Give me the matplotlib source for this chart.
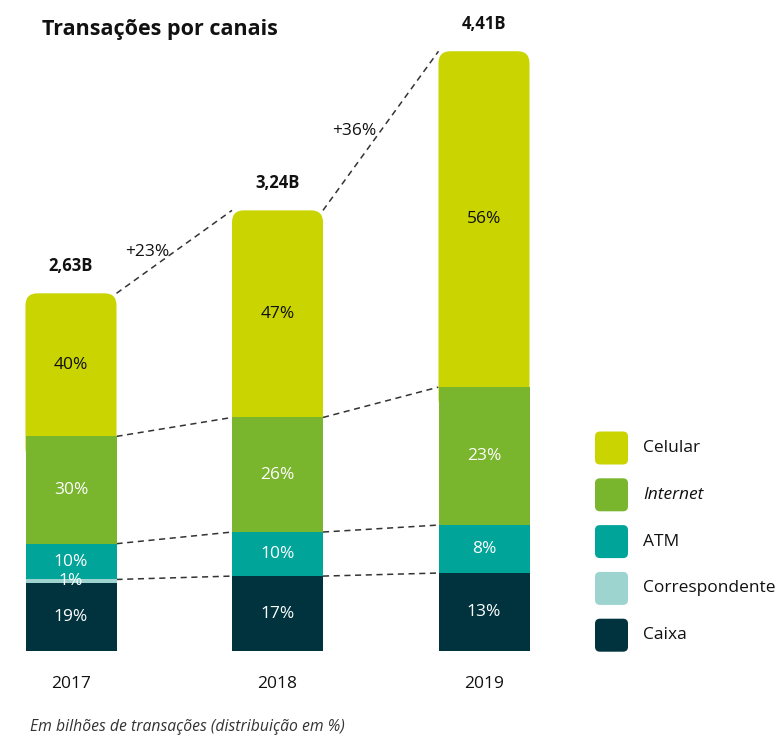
import matplotlib
matplotlib.use('Agg')
import matplotlib.pyplot as plt
from matplotlib.patches import FancyBboxPatch
from matplotlib.transforms import Affine2D
import numpy as np

plt.rcParams['font.family'] = ['Open Sans', 'DejaVu Sans']

# dados
anos = ['2017', '2018', '2019']
totais = [2.63, 3.24, 4.41]            # bilhões de transações
rotulos_totais = ['2,63B', '3,24B', '4,41B']
canais = ['Caixa', 'Correspondente', 'ATM', 'Internet', 'Celular']
participacao = {
    'Caixa':          [19, 17, 13],
    'Correspondente': [1, 0, 0],
    'ATM':            [10, 10, 8],
    'Internet':       [30, 26, 23],
    'Celular':        [40, 47, 56],
}
crescimento = ['+23%', '+36%']

cores = {
    'Caixa': '#00333d',
    'Correspondente': '#9dd4cf',
    'ATM': '#00a499',
    'Internet': '#79b52d',
    'Celular': '#c9d400',
}
cor_texto = {
    'Caixa': 'white', 'Correspondente': 'white', 'ATM': 'white',
    'Internet': 'white', 'Celular': '#111111',
}

W, H = 776, 737
fig = plt.figure(figsize=(W / 100, H / 100), dpi=100)
ax = fig.add_axes([0, 0, 1, 1])

# escala: 206.5 px entre barras, 136 px por bilhão, base em y=651 px
px_x, px_y = 206.5, 136.0
ax.set_xlim(-71 / px_x, (W - 71) / px_x)
ax.set_ylim(-(H - 651) / px_y, 651 / px_y)
ax.axis('off')

x = np.arange(len(anos))
largura = 91 / px_x
raio_x = 12 / px_x
aspecto = px_x / px_y
raio_y = raio_x * aspecto

base = np.zeros(len(anos))
niveis = []
for canal in canais:
    alt = np.array(totais) * np.array(participacao[canal]) / 100
    if canal == 'Celular':
        # topo arredondado; a parte de baixo fica escondida atrás da barra Internet
        for i in range(len(anos)):
            ext = 2 * raio_y
            caixa = FancyBboxPatch((x[i] - largura / 2, base[i] - ext), largura, alt[i] + ext,
                                   boxstyle=f'round,pad=0,rounding_size={raio_x}',
                                   mutation_aspect=aspecto, facecolor=cores[canal],
                                   edgecolor='none', zorder=1.5)
            ax.add_patch(caixa)
    else:
        ax.bar(x, alt, largura, bottom=base, color=cores[canal], zorder=2)
    for i in range(len(anos)):
        if participacao[canal][i] > 0:
            ax.text(x[i], base[i] + alt[i] / 2, f'{participacao[canal][i]}%',
                    ha='center', va='center', fontsize=12.5,
                    color=cor_texto[canal], zorder=4)
    base = base + alt
    niveis.append(base.copy())

# linhas tracejadas entre as barras
for nivel in niveis[1:]:
    for i in range(len(anos) - 1):
        ax.plot([x[i] + largura / 2, x[i + 1] - largura / 2], [nivel[i], nivel[i + 1]],
                color='#333333', lw=1.1, dashes=(4, 3), zorder=1)

# crescimento
for i, txt in enumerate(crescimento):
    xm = (x[i] + largura / 2 + x[i + 1] - largura / 2) / 2
    ym = (totais[i] + totais[i + 1]) / 2
    ax.annotate(txt, (xm, ym), xytext=(-27, 0), textcoords='offset pixels',
                ha='center', va='center', fontsize=12.5, color='#111111')

# totais e anos
for i in range(len(anos)):
    ax.annotate(rotulos_totais[i], (x[i], totais[i]), xytext=(0, 27),
                textcoords='offset pixels', ha='center', va='center',
                fontsize=12, fontweight='bold', color='#111111')
    ax.annotate(anos[i], (x[i], 0), xytext=(0, -33), textcoords='offset pixels',
                ha='center', va='center', fontsize=12.5, color='#111111')

# coordenadas em pixels (origem no topo)
tp = Affine2D().scale(1 / W, -1 / H).translate(0, 1) + fig.transFigure

fig.text(42, 30, 'Transações por canais', transform=tp, ha='left', va='center',
         fontsize=15.5, fontweight='bold', color='#111111')
fig.text(30, 727, 'Em bilhões de transações (distribuição em %)', transform=tp,
         ha='left', va='center', fontsize=11.3, style='italic', color='#333333')

# legenda
ordem_legenda = ['Celular', 'Internet', 'ATM', 'Correspondente', 'Caixa']
for j, canal in enumerate(ordem_legenda):
    yc = 448 + j * 46.8
    fig.add_artist(FancyBboxPatch((595, yc - 16.5), 33, 33,
                                  boxstyle='round,pad=0,rounding_size=5',
                                  facecolor=cores[canal], edgecolor='none',
                                  transform=tp))
    fig.text(643, yc, canal, transform=tp, ha='left', va='center', fontsize=12.5,
             color='#111111', style='italic' if canal == 'Internet' else 'normal')

fig.savefig('out.png', dpi=100, facecolor='white')
